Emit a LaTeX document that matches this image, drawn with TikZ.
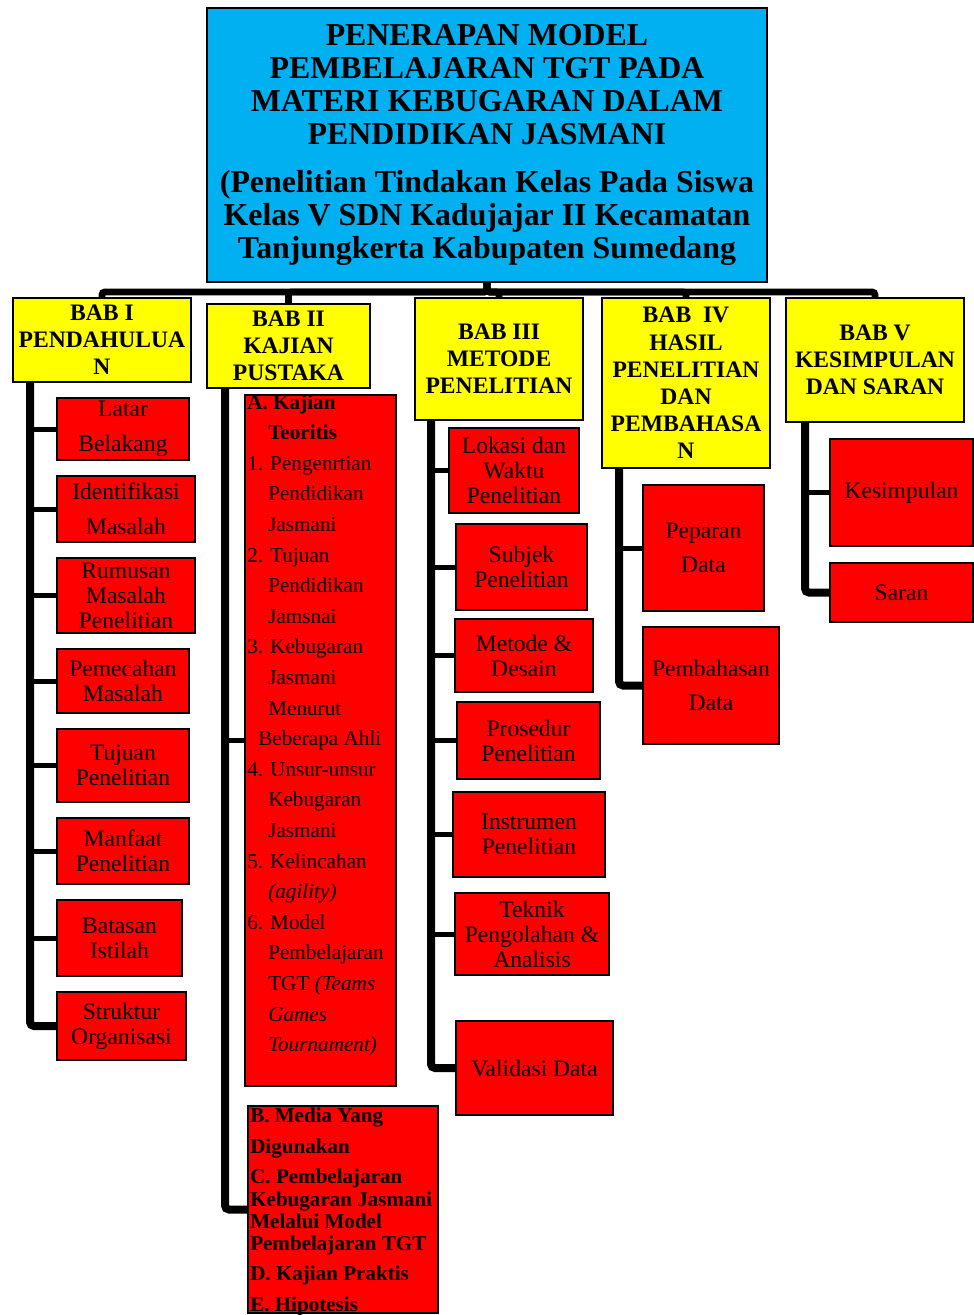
\documentclass[tikz,border=0pt]{standalone}
\usepackage{fontspec}
\setmainfont{Liberation Serif}
\usetikzlibrary{calc}
\definecolor{tcyan}{HTML}{00B0F0}
\definecolor{tyel}{HTML}{FFFF00}
\definecolor{tred}{HTML}{FF0000}
\newcommand\bx[7]{%
  \pgfmathsetmacro\bxw{(#4-#2)*0.75}%
  \pgfmathsetmacro\bxh{(#5-#3)*0.75}%
  \node[#6, minimum width=\bxw pt, minimum height=\bxh pt] (#1) at ({(#2+#4)/2},{(#3+#5)/2}) {#7};}
\begin{document}
\begin{tikzpicture}[x=0.75pt,y=-0.75pt,
  titlebox/.style={draw, line width=1.5pt, fill=tcyan, inner sep=0pt, outer sep=0pt, align=center, font=\bfseries\fontsize{23.9}{24.75}\selectfont},
  babbox/.style={draw, line width=1.6pt, fill=tyel, inner sep=0pt, outer sep=0pt, align=center, font=\bfseries\fontsize{17.7}{20.4}\selectfont},
  redbox/.style={draw, line width=1.5pt, fill=tred, inner sep=0pt, outer sep=0pt, align=center, font=\fontsize{17.7}{18.75}\selectfont},
  wide/.style={font=\fontsize{17.7}{26}\selectfont},
  bus/.style={line width=5pt, rounded corners=2pt},
  trunk/.style={line width=6pt, rounded corners=3pt},
  branch/.style={line width=3.75pt},
  ltxt/.style={anchor=base west, inner sep=0pt, font=\fontsize{15.9}{18}\selectfont},
  btxt/.style={anchor=base west, inner sep=0pt, font=\bfseries\fontsize{15.8}{18}\selectfont}]
\useasboundingbox (0,0) rectangle (974,1315);

% title
\bx{title}{207}{8}{767}{282}{titlebox}{PENERAPAN MODEL\\ PEMBELAJARAN TGT PADA\\ MATERI KEBUGARAN DALAM\\ PENDIDIKAN JASMANI\\[11.5pt] (Penelitian Tindakan Kelas Pada Siswa\\ Kelas V SDN Kadujajar II Kecamatan\\ Tanjungkerta Kabupaten Sumedang}

% chapters
\bx{b1}{13}{298}{191}{382}{babbox}{BAB I\\ PENDAHULUA\\ N}
\bx{b2}{207}{304}{370}{388}{babbox}{BAB II\\ KAJIAN\\ PUSTAKA}
\bx{b3}{415}{298}{583}{420}{babbox}{BAB III\\ METODE\\ PENELITIAN}
\bx{b4}{602}{298}{770}{468}{babbox}{BAB\ \ IV\\ HASIL\\ PENELITIAN\\ DAN\\ PEMBAHASA\\ N}
\bx{b5}{786}{298}{964}{422}{babbox}{BAB V\\ KESIMPULAN\\ DAN SARAN}

% connectors title -> chapters
\foreach \b in {b1,b2,b3,b4,b5}
  \draw[bus] (title.south) -- ++(0,10) -| (\b.north);

% BAB I children
\bx{l1}{57}{398}{189}{460}{redbox,wide}{Latar\\ Belakang}
\bx{l2}{57}{476}{195}{542}{redbox,wide}{Identifikasi\\ Masalah}
\bx{l3}{57}{558}{195}{633}{redbox}{Rumusan\\ Masalah\\ Penelitian}
\bx{l4}{57}{649}{189}{713}{redbox}{Pemecahan\\ Masalah}
\bx{l5}{57}{729}{189}{802}{redbox}{Tujuan\\ Penelitian}
\bx{l6}{57}{818}{189}{884}{redbox}{Manfaat\\ Penelitian}
\bx{l7}{57}{900}{182}{976}{redbox}{Batasan\\ Istilah}
\bx{l8}{57}{992}{186}{1060}{redbox}{Struktur\\ Organisasi}
\coordinate (x1) at (30,0);
\draw[trunk] (b1.south -| x1) |- (l8.west);
\foreach \c in {l1,l2,l3,l4,l5,l6,l7}
  \draw[branch] (x1 |- \c.west) -- (\c.west);

% BAB II children
\bx{k1}{245}{395}{396}{1086}{draw, line width=1.5pt, fill=tred, inner sep=0pt, outer sep=0pt}{}
\bx{k2}{248}{1106}{438}{1313}{draw, line width=1.5pt, fill=tred, inner sep=0pt, outer sep=0pt}{}
\coordinate (x2) at (225,0);
\draw[trunk] (b2.south -| x2) |- (k2.west);
\draw[branch] (x2 |- k1.west) -- (k1.west);
\foreach \dx/\t [count=\i] in {0/{\textbf{A. Kajian}}, 21/{\textbf{Teoritis}}, 0/{1. Pengenrtian}, 21/{Pendidikan}, 21/{Jasmani}, 0/{2. Tujuan}, 21/{Pendidikan}, 21/{Jamsnai}, 0/{3. Kebugaran}, 21/{Jasmani}, 21/{Menurut}, 11/{Beberapa Ahli}, 0/{4. Unsur-unsur}, 21/{Kebugaran}, 21/{Jasmani}, 0/{5. Kelincahan}, 21/{\textit{(agility)}}, 0/{6. Model}, 21/{Pembelajaran}, 21/{TGT \textit{(Teams}}, 21/{\textit{Games}}, 21/{\textit{Tournament)}}}
  \node[ltxt] (a\i) at ({247+\dx},{409+30.6*(\i-1)}) {\t};
\foreach \yy/\t [count=\i] in {1115/{B. Media Yang}, 1146/{Digunakan}, 1176/{C. Pembelajaran}, 1199/{Kebugaran Jasmani}, 1221/{Melalui Model}, 1243/{Pembelajaran TGT}, 1273/{D. Kajian Praktis}, 1304/{E. Hipotesis}}
  \node[btxt] (bt\i) at (250,{\yy+7}) {\t};

% BAB III children
\bx{m1}{449}{428}{579}{513}{redbox}{Lokasi dan\\ Waktu\\ Penelitian}
\bx{m2}{456}{524}{587}{610}{redbox}{Subjek\\ Penelitian}
\bx{m3}{455}{619}{593}{692}{redbox}{Metode \&\\ Desain}
\bx{m4}{457}{702}{600}{779}{redbox}{Prosedur\\ Penelitian}
\bx{m5}{453}{792}{605}{877}{redbox}{Instrumen\\ Penelitian}
\bx{m6}{455}{893}{609}{975}{redbox}{Teknik\\ Pengolahan \&\\ Analisis}
\bx{m7}{456}{1021}{613}{1115}{redbox}{Validasi Data}
\coordinate (x3) at (431,0);
\draw[trunk] (b3.south -| x3) |- (m7.west);
\foreach \c in {m1,m2,m3,m4,m5,m6}
  \draw[branch] (x3 |- \c.west) -- (\c.west);

% BAB IV children
\bx{h1}{643}{485}{764}{611}{redbox,wide}{Peparan\\ Data}
\bx{h2}{643}{627}{779}{744}{redbox,wide}{Pembahasan\\ Data}
\coordinate (x4) at (619,0);
\draw[trunk] (b4.south -| x4) |- (h2.west);
\draw[branch] (x4 |- h1.west) -- (h1.west);

% BAB V children
\bx{s1}{830}{439}{973}{546}{redbox}{Kesimpulan}
\bx{s2}{830}{563}{973}{622}{redbox}{Saran}
\coordinate (x5) at (805,0);
\draw[trunk] (b5.south -| x5) |- (s2.west);
\draw[branch] (x5 |- s1.west) -- (s1.west);
\end{tikzpicture}
\end{document}
